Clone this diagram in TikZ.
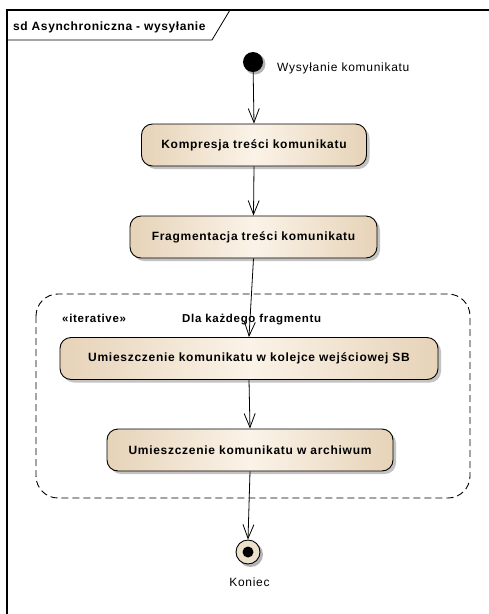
\documentclass[tikz,border=0pt]{standalone}
\usepackage{fontspec}
\setmainfont{Liberation Sans}
\usetikzlibrary{arrows.meta,shadows}
\definecolor{actdark}{HTML}{E6D3B8}
\definecolor{actlight}{HTML}{FBF3E8}
\definecolor{shadowgray}{HTML}{B4B4B4}
\newfontfamily\spaced[LetterSpace=6]{Liberation Sans}
\tikzset{
  px/.style={x=1pt,y=-1pt},
  action/.style={draw=black, line width=0.9pt, rounded corners=11pt,
    left color=actdark, right color=actdark, middle color=actlight,
    minimum height=42pt, font=\spaced\bfseries\fontsize{12}{14}\selectfont,
    drop shadow={shadow xshift=3pt, shadow yshift=-3pt, fill=shadowgray, opacity=0.8}},
  flow/.style={draw=black, line width=0.8pt,
    -{Straight Barb[length=14pt,width=11pt,line width=0.8pt]}},
  lbl/.style={font=\spaced\fontsize{12}{14}\selectfont, inner sep=0pt},
  blbl/.style={font=\spaced\bfseries\fontsize{11.5}{13}\selectfont, inner sep=0pt, anchor=base west},
}
\begin{document}
\begin{tikzpicture}[px]
\useasboundingbox (0,0) rectangle (489,614);
\fill[white] (0,0) rectangle (489,614);
\begin{scope}
\clip (0,0) rectangle (489,614);
% diagram frame with its header tab
\draw[shadowgray, line width=2.6pt] (7,10) -- (495,10);
\draw[shadowgray, line width=2.6pt] (7,10) -- (7,620);
\draw[black, line width=1.1pt] (7,620) -- (7,10) -- (495,10);
\draw[black, line width=0.8pt] (7,40) -- (212,40) -- (230,10);
\end{scope}
\node[anchor=base west, inner sep=0pt, font=\addfontfeatures{LetterSpace=5}\bfseries\fontsize{12}{14}\selectfont] (title) at (13,30) {sd Asynchroniczna - wysyłanie};

% start
\fill[shadowgray] (255,64) circle (10.5pt);
\node[circle, fill=black, minimum size=20pt, inner sep=0pt] (start) at (253,62) {};
\node[lbl, anchor=base west] (startlbl) at (277,71) {Wysyłanie komunikatu};

% actions
\node[action, minimum width=225pt] (a1) at (254,145) {Kompresja treści komunikatu};
\node[action, minimum width=247pt] (a2) at (253.5,237) {Fragmentacja treści komunikatu};

% iterative region
\draw[black, line width=0.9pt, dash pattern=on 7pt off 4pt, rounded corners=22pt]
  (36,294) rectangle (470,498);
\node[blbl] (iter) at (62,322) {«iterative»};
\node[blbl] (iterlbl) at (182,322) {Dla każdego fragmentu};

\node[action, minimum width=378pt] (a3) at (249,358.5) {Umieszczenie komunikatu w kolejce wejściowej SB};
\node[action, minimum width=286pt] (a4) at (250,450) {Umieszczenie komunikatu w archiwum};

% end
\fill[shadowgray] (250.5,554.5) circle (12.5pt);
\node[circle, draw=black, line width=0.9pt, fill=actdark!70!white, minimum size=24pt, inner sep=0pt] (end) at (248,552) {};
\fill[black] (end.center) circle (5.5pt);
\node[lbl, anchor=base] (endlbl) at (249.5,586) {Koniec};

% flows
\draw[flow] (start) -- (a1.north);
\draw[flow] (a1.south) -- (a2.north);
\draw[flow] (a2.south) -- (a3.north);
\draw[flow] (a3.south) -- (a4.north);
\draw[flow] (a4.south) -- (end.north);
\end{tikzpicture}
\end{document}
